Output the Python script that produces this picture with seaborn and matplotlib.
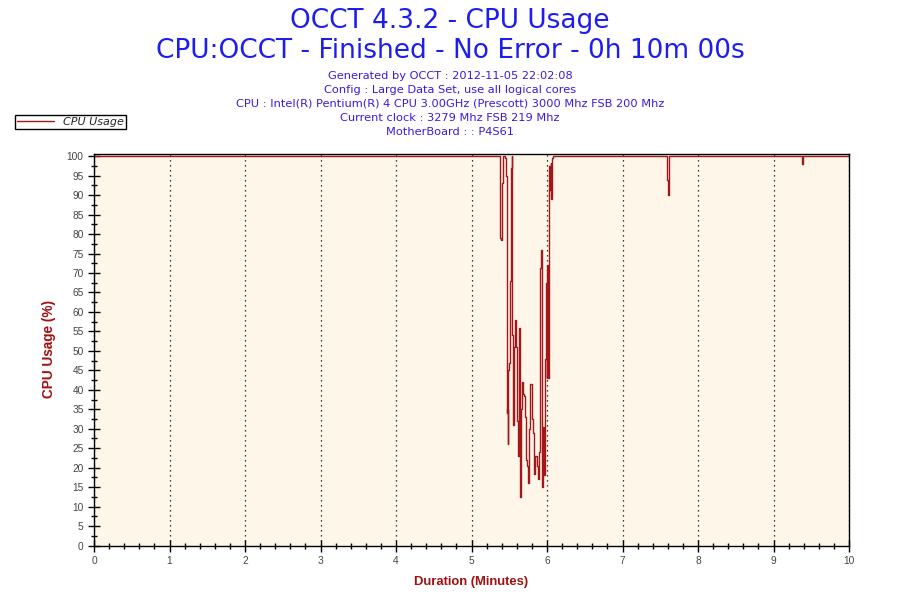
import pandas as pd
import matplotlib
matplotlib.use("Agg")
import matplotlib.pyplot as plt
from matplotlib.ticker import MultipleLocator
import seaborn as sns

# sample times (minutes) and CPU usage (%)
minutes = [0.0, 5.351, 5.364, 5.377, 5.384, 5.391, 5.404, 5.417, 5.444, 5.457,
           5.464, 5.470, 5.477, 5.483, 5.497, 5.510, 5.523, 5.536, 5.543, 5.550,
           5.556, 5.563, 5.576, 5.589, 5.603, 5.616, 5.629, 5.636, 5.649, 5.656,
           5.669, 5.682, 5.695, 5.709, 5.722, 5.731, 5.742, 5.758, 5.775, 5.797,
           5.805, 5.819, 5.832, 5.845, 5.864, 5.877, 5.890, 5.907, 5.921, 5.934,
           5.943, 5.960, 5.969, 5.983, 5.991, 5.996, 6.004, 6.013, 6.023, 6.030,
           6.040, 6.049, 6.057, 6.066, 6.073, 7.583, 7.592, 7.600, 7.610, 9.374,
           9.383, 9.392, 10.0]
usage = [100, 100, 100, 93.6, 79, 78.4, 93, 100, 99.5, 95,
         34, 35, 26, 45, 47, 68, 97, 100, 54, 51,
         31, 51, 58, 51, 32, 23, 56, 49, 12.4, 35,
         42, 39, 38.5, 33, 22, 20.5, 16, 30, 41.4, 41,
         32.5, 29, 18.4, 23, 20.5, 17, 24, 71.4, 76, 15,
         30.4, 18, 48, 57, 67.5, 43, 72, 43, 61, 97.4,
         91.4, 98.3, 89, 99.6, 100, 100, 94, 90, 100, 98.3,
         98, 100, 100]

title_main = "OCCT 4.3.2 - CPU Usage"
title_sub = "CPU:OCCT - Finished - No Error - 0h 10m 00s"
info_lines = ["Generated by OCCT : 2012-11-05 22:02:08",
              "Config : Large Data Set, use all logical cores",
              "CPU : Intel(R) Pentium(R) 4 CPU 3.00GHz (Prescott) 3000 Mhz FSB 200 Mhz",
              "Current clock : 3279 Mhz FSB 219 Mhz",
              "MotherBoard : : P4S61"]

LINE_RED = "#A3161A"
LABEL_RED = "#A01010"


def CpuUsageChart(outname):
    df = pd.DataFrame({"Duration": minutes, "CPU Usage": usage})

    sns.set_style("ticks")
    plt.rcParams["font.family"] = ["DejaVu Sans"]

    fig = plt.figure(figsize=(9, 6), dpi=100)
    ax = fig.add_axes([94 / 900, 1 - 545.5 / 600, 755 / 900, 392 / 600])
    ax.set_facecolor("#FEF7E9")

    sns.lineplot(data=df, x="Duration", y="CPU Usage", ax=ax, color=LINE_RED,
                 linewidth=1.0, drawstyle="steps-post", label="CPU Usage",
                 legend=False)

    ax.set_xlim(0, 10)
    ax.set_ylim(0, 100.7)
    ax.xaxis.set_major_locator(MultipleLocator(1))
    ax.xaxis.set_minor_locator(MultipleLocator(0.2))
    ax.yaxis.set_major_locator(MultipleLocator(5))
    ax.yaxis.set_minor_locator(MultipleLocator(2.5))
    ax.tick_params(which="major", direction="inout", length=8, width=1,
                   colors="black", labelcolor="#444444", labelsize=7.3)
    ax.tick_params(which="minor", direction="inout", length=4.5, width=1,
                   colors="black")
    for lab in ax.get_xticklabels() + ax.get_yticklabels():
        lab.set_family("Liberation Sans")

    ax.grid(True, axis="x", which="major", color="black", linestyle=(0, (1, 3)),
            linewidth=0.9)
    ax.grid(False, axis="y")
    for sp in ax.spines.values():
        sp.set_color("black")
        sp.set_linewidth(1)
        sp.set_visible(True)

    ax.set_xlabel("Duration (Minutes)", color=LABEL_RED, fontsize=9.4,
                  fontweight="bold", family="Liberation Sans", labelpad=7)
    ax.set_ylabel("CPU Usage (%)", color=LABEL_RED, fontsize=9.8,
                  fontweight="bold", family="Liberation Sans", labelpad=8)

    fig.text(0.5, 1 - 21 / 600, title_main, ha="center", va="center",
             fontsize=19, color="#1E1EEC")
    fig.text(0.5, 1 - 51 / 600, title_sub, ha="center", va="center",
             fontsize=19, color="#1E1EEC")
    for i, line in enumerate(info_lines):
        fig.text(0.5, 1 - (76 + 14 * i) / 600, line, ha="center", va="center",
                 fontsize=8.2, color="#3A1AE0")

    leg = fig.legend(loc="upper left", bbox_to_anchor=(15 / 900, 1 - 115 / 600),
                     borderaxespad=0, frameon=True, fancybox=False,
                     edgecolor="black", framealpha=1, handlelength=3.3,
                     borderpad=0.2, prop={"size": 8, "style": "italic"})
    leg.get_frame().set_linewidth(1)

    fig.savefig(outname, dpi=100)


def main():
    CpuUsageChart("out.png")


if __name__ == "__main__":
    main()
